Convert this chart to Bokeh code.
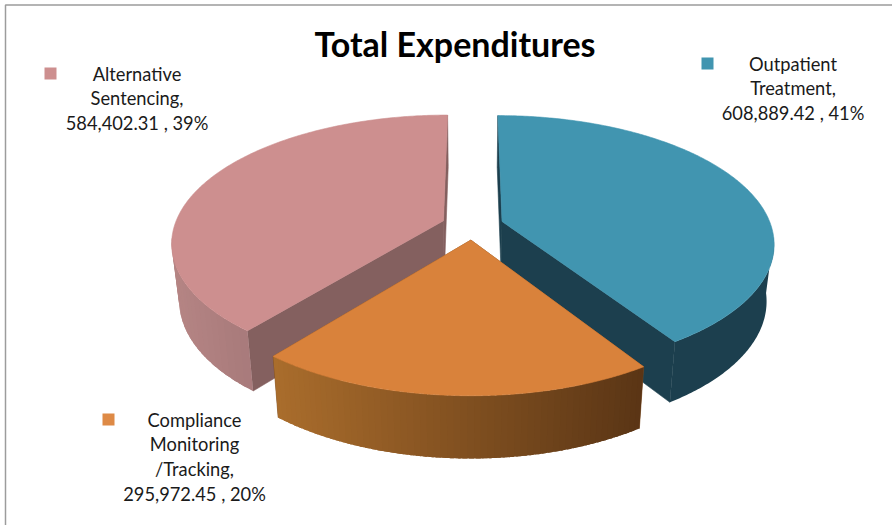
import math
from bokeh.plotting import figure
from bokeh.embed import file_html
from bokeh.resources import INLINE
from bokeh.core.properties import value
from bokeh.models import Range1d

W, H = 892, 525

categories = ["Outpatient Treatment", "Compliance Monitoring /Tracking", "Alternative Sentencing"]
values = [608889.42, 295972.45, 584402.31]
label_lines = [
    ["Outpatient", "Treatment,", "608,889.42 , 41%"],
    ["Compliance", "Monitoring", "/Tracking,", "295,972.45 , 20%"],
    ["Alternative", "Sentencing,", "584,402.31 , 39%"],
]
title = "Total Expenditures"
top_colors = ["#4195B0", "#D9823B", "#CD8F8F"]
legend_colors = ["#4195B0", "#DE8A46", "#CD8F8F"]
radial_colors = ["#1C3F4E", "#7C4C20", "#84605F"]
wall_left = ["#1C3F4E", "#AA6D2C", "#B58584"]
wall_right = ["#1C3F4E", "#5A3515", "#A87A7B"]

# projection of the exploded 3D pie (pixels)
CX, CY, RX, RY, PERSP, EXPLODE = 472.0, 225.0, 269.0, 124.6, 0.165, 0.115


def project(U, V):
    w = 1 - PERSP * V
    return CX + RX * U / w, CY + RY * V / w


def lower(pt):
    x, y = pt
    return CX + (x - CX) * 0.975, CY + 56 + (y - CY) * 1.04


def mix(a, b, t):
    ca = [int(a[i:i + 2], 16) for i in (1, 3, 5)]
    cb = [int(b[i:i + 2], 16) for i in (1, 3, 5)]
    return "#%02x%02x%02x" % tuple(round(p + (q - p) * t) for p, q in zip(ca, cb))


total = sum(values)
slices = []
start = 0.0
for i, v in enumerate(values):
    sweep = 2 * math.pi * v / total
    mid = start + sweep / 2
    du, dv = EXPLODE * math.sin(mid), -EXPLODE * math.cos(mid)
    n = 240
    rim = []
    for k in range(n + 1):
        a = start + sweep * k / n
        rim.append(project(du + math.sin(a), dv - math.cos(a)))
    slices.append(dict(i=i, apex=project(du, dv), rim=rim))
    start += sweep

p = figure(width=W, height=H, output_backend="svg", toolbar_location=None,
           x_range=Range1d(0, W), y_range=Range1d(H, 0),
           min_border=0, outline_line_color=None)
p.axis.visible = False
p.grid.visible = False


def poly(pts, color, outlined=True):
    p.patch([q[0] for q in pts], [q[1] for q in pts], fill_color=color,
            line_color=color if outlined else None, line_width=0.6)


# frame
p.line([5, 5, W], [H, 4.5, 4.5], line_color="#9C9C9C", line_width=1.5)


def draw_slice(s):
    i, apex, rim = s["i"], s["apex"], s["rim"]
    c = radial_colors[i]
    # radial walls
    poly([apex, rim[0], lower(rim[0]), lower(apex)], c)
    poly([apex, rim[-1], lower(rim[-1]), lower(apex)], c)
    # outer wall: only the part of the rim that faces the viewer
    front = [q for q in rim if q[1] >= CY + 10]
    xs = [q[0] for q in front]
    lo, hi = min(xs), max(xs)
    if wall_left[i] == wall_right[i]:
        poly(front + [lower(q) for q in reversed(front)], wall_left[i], outlined=False)
    else:
        step = 4
        # painter order: each later band covers the overlap of the one before
        for k in range(0, len(front) - 1, step):
            seg = front[k:min(k + step + 4, len(front))]
            t = (seg[0][0] + front[min(k + step, len(front) - 1)][0]) / 2
            t = (t - lo) / (hi - lo)
            poly(seg + [lower(q) for q in reversed(seg)], mix(wall_left[i], wall_right[i], t), outlined=False)
    poly([apex] + rim, top_colors[i])


draw_slice(slices[2])
draw_slice(slices[0])
draw_slice(slices[1])

# title
p.text([454.5], [43], text=[title], text_font=value("Lato"), text_font_size="34px",
       text_font_style="bold", text_color="#000000", text_align="center", text_baseline="middle")

# labels with their colour keys
label_x = [792.5, 194, 136.5]
label_y = [63, 419, 73]
key_x = [707, 108, 50]
key_y = [63, 419, 73]
for i, lines in enumerate(label_lines):
    ys = [label_y[i] + 24.8 * k for k in range(len(lines))]
    p.text([label_x[i]] * len(lines), ys, text=lines, text_font=value("Lato"),
           text_font_size="18.3px", text_color="#1A1A1A", text_align="center", text_baseline="middle")
    p.scatter([key_x[i]], [key_y[i]], marker="square", size=12, fill_color=legend_colors[i], line_color=None)

open("out.html", "w").write(file_html(p, INLINE))
